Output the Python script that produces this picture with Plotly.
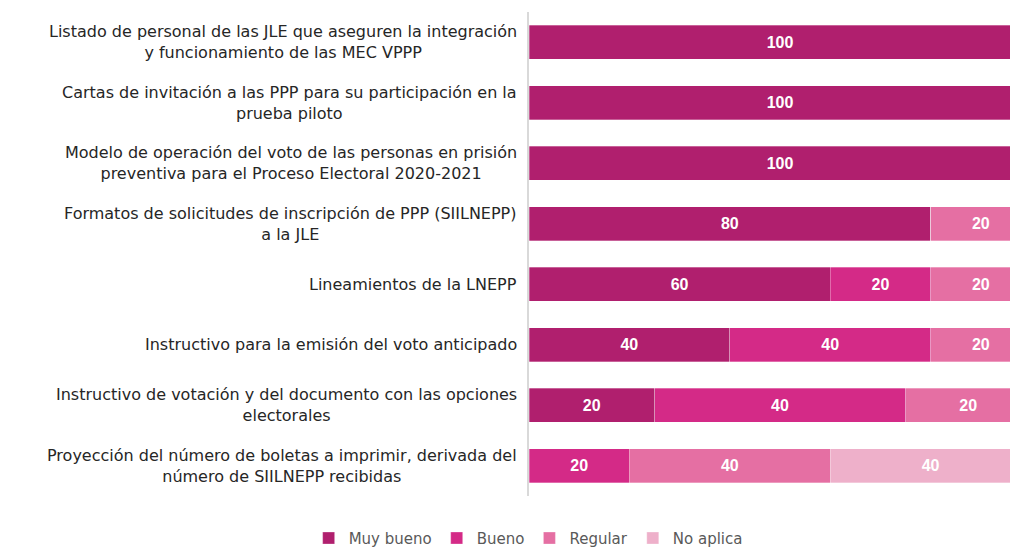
import plotly.graph_objects as go

categories = [
    "Listado de personal de las JLE que aseguren la integración<br>y funcionamiento de las MEC VPPP",
    "Cartas de invitación a las PPP para su participación en la<br>prueba piloto",
    "Modelo de operación del voto de las personas en prisión<br>preventiva para el Proceso Electoral 2020-2021",
    "Formatos de solicitudes de inscripción de PPP (SIILNEPP)<br>a la JLE",
    "Lineamientos de la LNEPP",
    "Instructivo para la emisión del voto anticipado",
    "Instructivo de votación y del documento con las opciones<br>electorales",
    "Proyección del número de boletas a imprimir, derivada del<br>número de SIILNEPP recibidas",
]

series_names = ["Muy bueno", "Bueno", "Regular", "No aplica"]
# bar lengths as drawn
muy_bueno = [100, 100, 100, 80, 60, 40, 25, 0]
bueno = [0, 0, 0, 0, 20, 40, 50, 20]
regular = [0, 0, 0, 20, 20, 20, 25, 40]
no_aplica = [0, 0, 0, 0, 0, 0, 0, 40]
# printed labels
muy_bueno_lbl = ["100", "100", "100", "80", "60", "40", "20", ""]
bueno_lbl = ["", "", "", "", "20", "40", "40", "20"]
regular_lbl = ["", "", "", "20", "20", "20", "20", "40"]
no_aplica_lbl = ["", "", "", "", "", "", "", "40"]

colors = ["#B01F6E", "#D42A87", "#E56FA3", "#EEB0CA"]
FONT = "DejaVu Sans, Verdana, sans-serif"

fig = go.Figure()
for name, vals, lbls, col in zip(
    series_names,
    [muy_bueno, bueno, regular, no_aplica],
    [muy_bueno_lbl, bueno_lbl, regular_lbl, no_aplica_lbl],
    colors,
):
    fig.add_trace(
        go.Bar(
            y=categories,
            x=vals,
            name=name,
            orientation="h",
            marker=dict(color=col, line=dict(color="rgba(255,255,255,0.5)", width=0.6)),
            text=lbls,
            textposition="inside",
            insidetextanchor="middle",
            textangle=0,
            textfont=dict(color="white", size=16, family="Liberation Sans, Arial, sans-serif", weight="bold"),
        )
    )

# category labels, centered lines like the original
for c in categories:
    fig.add_annotation(
        x=0, xref="paper", xanchor="right", xshift=-10,
        y=c, yref="y",
        text=c, showarrow=False, align="center",
        font=dict(size=16, color="#262626", family=FONT),
    )

fig.update_layout(
    barmode="stack",
    bargap=0.44,
    width=1010,
    height=540,
    margin=dict(l=521, r=0, t=4, b=52),
    paper_bgcolor="white",
    plot_bgcolor="white",
    uniformtext=dict(minsize=8, mode="show"),
    xaxis=dict(range=[0, 97.4], visible=False, fixedrange=True),
    yaxis=dict(
        autorange="reversed",
        showticklabels=False,
        showline=True,
        linecolor="#D9D9D9",
        linewidth=2,
        ticks="",
        showgrid=False,
    ),
    legend=dict(
        orientation="h",
        x=0.515, xanchor="center", xref="container",
        y=0.018, yanchor="middle", yref="container",
        font=dict(size=15, color="#595959", family=FONT),
        itemwidth=30,
        traceorder="normal",
    ),
    showlegend=True,
)

fig.write_html("out.html")
